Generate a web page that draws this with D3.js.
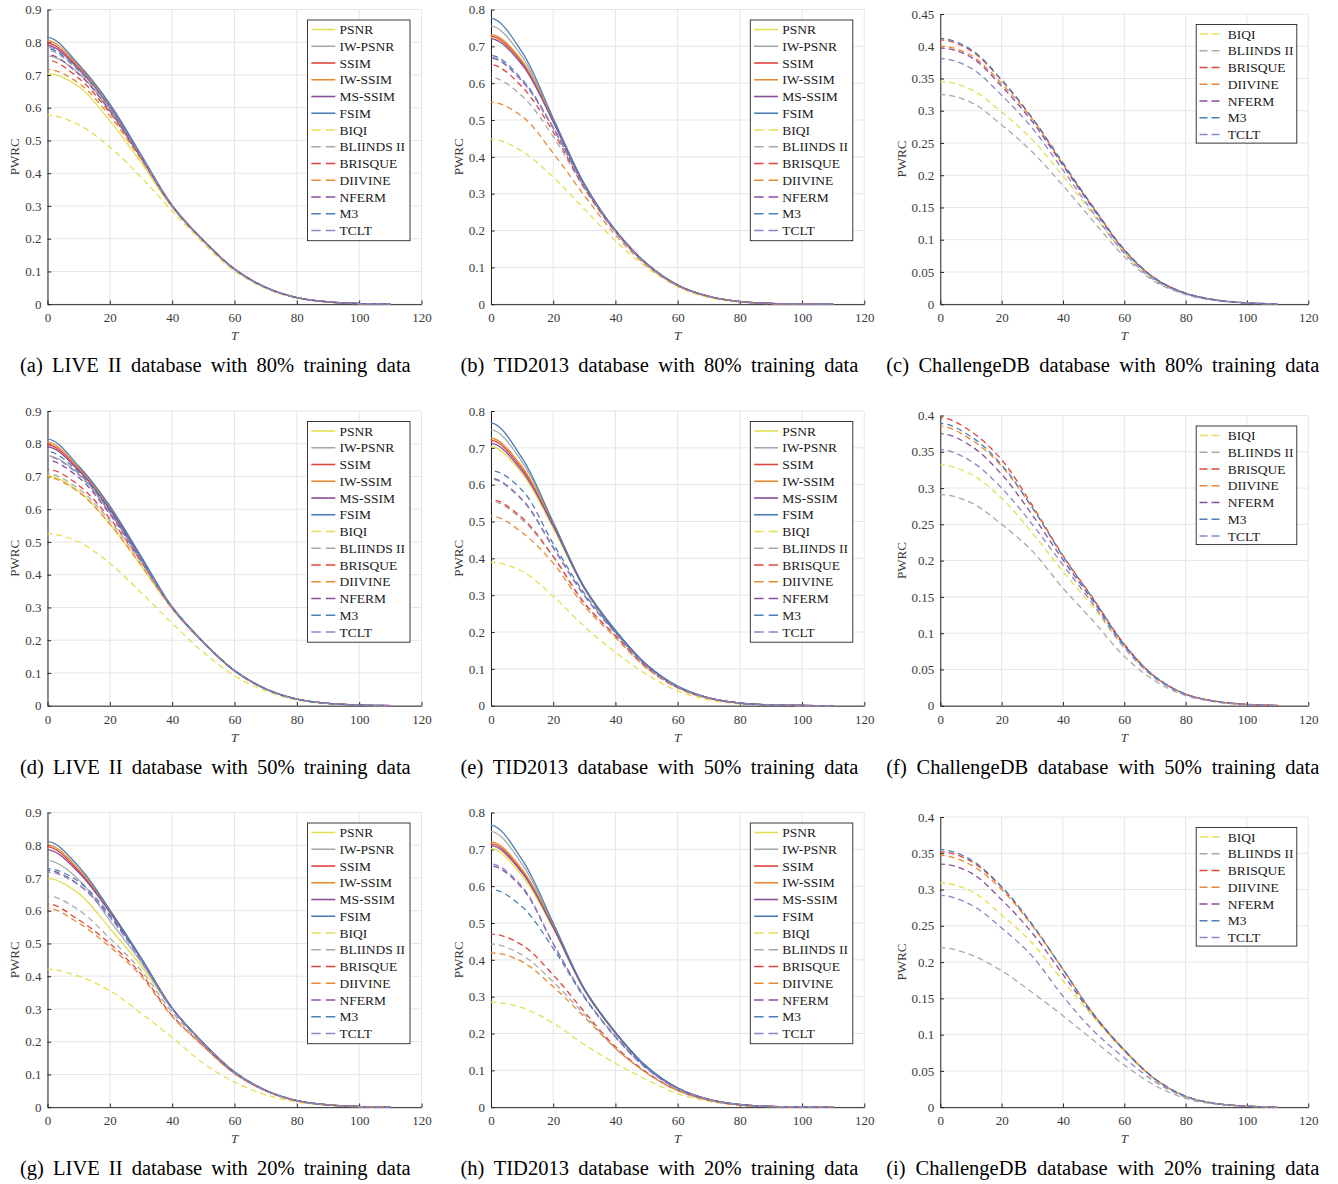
<!DOCTYPE html>
<html>
<head>
<meta charset="utf-8">
<script src="https://cdn.jsdelivr.net/npm/d3@7"></script>
<style>
  body { margin: 0; background: #fff; }
  svg { display: block; font-family: "Liberation Serif", "Times New Roman", serif; }
</style>
</head>
<body>
<div id="chart"></div>
<script>
// Methods, in legend order (first six are FR metrics, drawn solid)
const methods = ["PSNR", "IW-PSNR", "SSIM", "IW-SSIM", "MS-SSIM", "FSIM",
                 "BIQI", "BLIINDS II", "BRISQUE", "DIIVINE", "NFERM", "M3", "TCLT"];
const nrMethods = methods.slice(6);
const methodColors = ["#e4df52", "#a9a9a9", "#e0463d", "#e88a33", "#8a4e9c", "#4b80b6",
                      "#e4df52", "#a9a9a9", "#e0463d", "#e88a33", "#8a4e9c", "#4b80b6", "#8c87c6"];

const thresholds = [0, 10, 20, 30, 40, 50, 60, 70, 80, 90, 100, 110];

// PWRC values, one row per method (order as in `methods` or `nrMethods`)
const liveII80 = [
  [0.704, 0.665, 0.560, 0.433, 0.296, 0.193, 0.106, 0.051, 0.020, 0.007, 0.002, 0.0005],
  [0.758, 0.705, 0.590, 0.447, 0.300, 0.194, 0.107, 0.051, 0.020, 0.007, 0.002, 0.0005],
  [0.797, 0.722, 0.603, 0.452, 0.300, 0.194, 0.107, 0.051, 0.020, 0.007, 0.002, 0.0005],
  [0.805, 0.727, 0.607, 0.454, 0.301, 0.195, 0.107, 0.051, 0.020, 0.007, 0.002, 0.0005],
  [0.790, 0.718, 0.602, 0.452, 0.300, 0.194, 0.107, 0.051, 0.020, 0.007, 0.002, 0.0005],
  [0.815, 0.732, 0.612, 0.457, 0.302, 0.195, 0.108, 0.052, 0.020, 0.007, 0.002, 0.0005],
  [0.577, 0.548, 0.480, 0.388, 0.285, 0.186, 0.101, 0.048, 0.018, 0.006, 0.0015, 0.0004],
  [0.775, 0.712, 0.598, 0.450, 0.300, 0.194, 0.107, 0.051, 0.020, 0.007, 0.002, 0.0005],
  [0.745, 0.690, 0.585, 0.445, 0.299, 0.194, 0.107, 0.051, 0.020, 0.007, 0.002, 0.0005],
  [0.717, 0.675, 0.575, 0.442, 0.298, 0.193, 0.106, 0.051, 0.020, 0.007, 0.002, 0.0005],
  [0.762, 0.703, 0.592, 0.448, 0.300, 0.194, 0.107, 0.051, 0.020, 0.007, 0.002, 0.0005],
  [0.780, 0.715, 0.600, 0.452, 0.300, 0.194, 0.107, 0.051, 0.020, 0.007, 0.002, 0.0005],
  [0.785, 0.716, 0.600, 0.452, 0.300, 0.194, 0.107, 0.051, 0.020, 0.007, 0.002, 0.0005]
];
const tid80 = [
  [0.725, 0.655, 0.497, 0.325, 0.200, 0.110, 0.052, 0.021, 0.007, 0.002, 0.0005, 0.0001],
  [0.755, 0.672, 0.500, 0.325, 0.200, 0.110, 0.052, 0.021, 0.007, 0.002, 0.0005, 0.0001],
  [0.727, 0.656, 0.497, 0.325, 0.200, 0.110, 0.052, 0.021, 0.007, 0.002, 0.0005, 0.0001],
  [0.732, 0.660, 0.500, 0.326, 0.200, 0.110, 0.052, 0.021, 0.007, 0.002, 0.0005, 0.0001],
  [0.720, 0.650, 0.495, 0.325, 0.200, 0.110, 0.052, 0.021, 0.007, 0.002, 0.0005, 0.0001],
  [0.776, 0.684, 0.505, 0.327, 0.201, 0.111, 0.052, 0.021, 0.007, 0.002, 0.0005, 0.0001],
  [0.448, 0.415, 0.345, 0.258, 0.172, 0.100, 0.047, 0.018, 0.006, 0.0015, 0.0004, 0.0001],
  [0.615, 0.565, 0.455, 0.315, 0.198, 0.109, 0.051, 0.021, 0.007, 0.002, 0.0005, 0.0001],
  [0.650, 0.590, 0.468, 0.315, 0.196, 0.108, 0.051, 0.021, 0.007, 0.002, 0.0005, 0.0001],
  [0.548, 0.510, 0.410, 0.295, 0.188, 0.105, 0.050, 0.020, 0.007, 0.002, 0.0005, 0.0001],
  [0.668, 0.605, 0.478, 0.320, 0.198, 0.109, 0.051, 0.021, 0.007, 0.002, 0.0005, 0.0001],
  [0.675, 0.610, 0.480, 0.321, 0.198, 0.109, 0.051, 0.021, 0.007, 0.002, 0.0005, 0.0001],
  [0.670, 0.607, 0.478, 0.320, 0.198, 0.109, 0.051, 0.021, 0.007, 0.002, 0.0005, 0.0001]
];
const challenge80 = [
  [0.345, 0.333, 0.298, 0.255, 0.199, 0.138, 0.080, 0.038, 0.016, 0.006, 0.002, 0.0005],
  [0.325, 0.313, 0.278, 0.236, 0.184, 0.128, 0.074, 0.035, 0.015, 0.0055, 0.0017, 0.0004],
  [0.410, 0.393, 0.347, 0.288, 0.218, 0.149, 0.084, 0.040, 0.017, 0.0065, 0.002, 0.0005],
  [0.400, 0.386, 0.342, 0.287, 0.217, 0.149, 0.084, 0.040, 0.017, 0.0065, 0.002, 0.0005],
  [0.397, 0.383, 0.338, 0.283, 0.215, 0.147, 0.083, 0.040, 0.017, 0.0065, 0.002, 0.0005],
  [0.412, 0.395, 0.348, 0.289, 0.219, 0.150, 0.085, 0.040, 0.017, 0.0065, 0.002, 0.0005],
  [0.381, 0.366, 0.324, 0.273, 0.208, 0.141, 0.079, 0.037, 0.016, 0.006, 0.002, 0.0005]
];
const liveII50 = [
  [0.702, 0.655, 0.555, 0.428, 0.296, 0.193, 0.106, 0.051, 0.020, 0.007, 0.002, 0.0005],
  [0.763, 0.708, 0.590, 0.447, 0.300, 0.194, 0.107, 0.051, 0.020, 0.007, 0.002, 0.0005],
  [0.797, 0.722, 0.600, 0.452, 0.300, 0.194, 0.107, 0.051, 0.020, 0.007, 0.002, 0.0005],
  [0.804, 0.727, 0.605, 0.454, 0.301, 0.195, 0.107, 0.051, 0.020, 0.007, 0.002, 0.0005],
  [0.790, 0.718, 0.600, 0.452, 0.300, 0.194, 0.107, 0.051, 0.020, 0.007, 0.002, 0.0005],
  [0.814, 0.732, 0.610, 0.457, 0.302, 0.195, 0.108, 0.052, 0.020, 0.007, 0.002, 0.0005],
  [0.525, 0.500, 0.435, 0.346, 0.252, 0.163, 0.092, 0.045, 0.017, 0.006, 0.0015, 0.0004],
  [0.708, 0.662, 0.565, 0.438, 0.298, 0.193, 0.106, 0.051, 0.020, 0.007, 0.002, 0.0005],
  [0.722, 0.673, 0.572, 0.441, 0.298, 0.193, 0.106, 0.051, 0.020, 0.007, 0.002, 0.0005],
  [0.697, 0.652, 0.555, 0.430, 0.296, 0.193, 0.106, 0.051, 0.020, 0.007, 0.002, 0.0005],
  [0.749, 0.697, 0.585, 0.445, 0.300, 0.194, 0.107, 0.051, 0.020, 0.007, 0.002, 0.0005],
  [0.776, 0.713, 0.595, 0.450, 0.300, 0.194, 0.107, 0.051, 0.020, 0.007, 0.002, 0.0005],
  [0.760, 0.705, 0.590, 0.447, 0.300, 0.194, 0.107, 0.051, 0.020, 0.007, 0.002, 0.0005]
];
const tid50 = [
  [0.703, 0.630, 0.482, 0.318, 0.200, 0.110, 0.052, 0.021, 0.007, 0.002, 0.0005, 0.0001],
  [0.749, 0.662, 0.495, 0.320, 0.203, 0.111, 0.052, 0.021, 0.007, 0.002, 0.0005, 0.0001],
  [0.720, 0.643, 0.490, 0.320, 0.203, 0.111, 0.052, 0.021, 0.007, 0.002, 0.0005, 0.0001],
  [0.726, 0.648, 0.493, 0.321, 0.204, 0.111, 0.052, 0.021, 0.007, 0.002, 0.0005, 0.0001],
  [0.712, 0.637, 0.488, 0.319, 0.203, 0.111, 0.052, 0.021, 0.007, 0.002, 0.0005, 0.0001],
  [0.767, 0.672, 0.498, 0.322, 0.205, 0.112, 0.053, 0.021, 0.007, 0.002, 0.0005, 0.0001],
  [0.389, 0.365, 0.297, 0.215, 0.145, 0.085, 0.040, 0.016, 0.005, 0.0015, 0.0004, 0.0001],
  [0.555, 0.505, 0.405, 0.280, 0.190, 0.104, 0.049, 0.020, 0.007, 0.002, 0.0005, 0.0001],
  [0.559, 0.510, 0.405, 0.278, 0.190, 0.104, 0.049, 0.020, 0.007, 0.002, 0.0005, 0.0001],
  [0.515, 0.470, 0.387, 0.270, 0.185, 0.102, 0.048, 0.019, 0.0065, 0.002, 0.0005, 0.0001],
  [0.617, 0.560, 0.430, 0.300, 0.198, 0.108, 0.051, 0.021, 0.007, 0.002, 0.0005, 0.0001],
  [0.638, 0.585, 0.440, 0.305, 0.200, 0.109, 0.051, 0.021, 0.007, 0.002, 0.0005, 0.0001],
  [0.615, 0.558, 0.428, 0.298, 0.197, 0.108, 0.051, 0.021, 0.007, 0.002, 0.0005, 0.0001]
];
const challenge50 = [
  [0.332, 0.319, 0.286, 0.238, 0.185, 0.135, 0.080, 0.038, 0.015, 0.0055, 0.0017, 0.0004],
  [0.291, 0.280, 0.250, 0.213, 0.162, 0.116, 0.068, 0.034, 0.014, 0.005, 0.0015, 0.0004],
  [0.397, 0.378, 0.339, 0.276, 0.207, 0.147, 0.085, 0.040, 0.016, 0.006, 0.0018, 0.0004],
  [0.385, 0.367, 0.330, 0.273, 0.206, 0.146, 0.084, 0.040, 0.016, 0.006, 0.0018, 0.0004],
  [0.375, 0.358, 0.319, 0.263, 0.201, 0.143, 0.083, 0.040, 0.016, 0.006, 0.0018, 0.0004],
  [0.389, 0.371, 0.332, 0.273, 0.206, 0.146, 0.084, 0.040, 0.016, 0.006, 0.0018, 0.0004],
  [0.353, 0.337, 0.300, 0.250, 0.194, 0.139, 0.080, 0.038, 0.015, 0.0055, 0.0017, 0.0004]
];
const liveII20 = [
  [0.699, 0.653, 0.546, 0.432, 0.300, 0.194, 0.106, 0.051, 0.020, 0.007, 0.002, 0.0005],
  [0.753, 0.695, 0.570, 0.443, 0.300, 0.195, 0.106, 0.051, 0.020, 0.007, 0.002, 0.0005],
  [0.795, 0.722, 0.598, 0.455, 0.302, 0.196, 0.107, 0.051, 0.020, 0.007, 0.002, 0.0005],
  [0.801, 0.727, 0.600, 0.456, 0.302, 0.196, 0.107, 0.051, 0.020, 0.007, 0.002, 0.0005],
  [0.786, 0.717, 0.595, 0.454, 0.302, 0.196, 0.107, 0.051, 0.020, 0.007, 0.002, 0.0005],
  [0.811, 0.735, 0.603, 0.457, 0.303, 0.196, 0.108, 0.052, 0.020, 0.007, 0.002, 0.0005],
  [0.421, 0.400, 0.356, 0.287, 0.213, 0.134, 0.077, 0.038, 0.016, 0.006, 0.0015, 0.0004],
  [0.645, 0.602, 0.516, 0.418, 0.290, 0.190, 0.104, 0.050, 0.019, 0.007, 0.002, 0.0005],
  [0.621, 0.572, 0.500, 0.407, 0.280, 0.187, 0.103, 0.050, 0.019, 0.007, 0.002, 0.0005],
  [0.608, 0.562, 0.490, 0.401, 0.277, 0.186, 0.103, 0.050, 0.019, 0.007, 0.002, 0.0005],
  [0.723, 0.680, 0.582, 0.450, 0.301, 0.195, 0.106, 0.051, 0.020, 0.007, 0.002, 0.0005],
  [0.728, 0.689, 0.587, 0.452, 0.301, 0.195, 0.106, 0.051, 0.020, 0.007, 0.002, 0.0005],
  [0.718, 0.678, 0.580, 0.449, 0.301, 0.195, 0.106, 0.051, 0.020, 0.007, 0.002, 0.0005]
];
const tid20 = [
  [0.702, 0.628, 0.485, 0.318, 0.200, 0.109, 0.051, 0.021, 0.007, 0.002, 0.0005, 0.0001],
  [0.748, 0.660, 0.495, 0.320, 0.202, 0.110, 0.052, 0.021, 0.007, 0.002, 0.0005, 0.0001],
  [0.715, 0.640, 0.490, 0.320, 0.202, 0.110, 0.052, 0.021, 0.007, 0.002, 0.0005, 0.0001],
  [0.720, 0.645, 0.493, 0.321, 0.203, 0.110, 0.052, 0.021, 0.007, 0.002, 0.0005, 0.0001],
  [0.710, 0.636, 0.488, 0.319, 0.202, 0.110, 0.052, 0.021, 0.007, 0.002, 0.0005, 0.0001],
  [0.765, 0.672, 0.500, 0.322, 0.204, 0.111, 0.052, 0.021, 0.007, 0.002, 0.0005, 0.0001],
  [0.285, 0.270, 0.228, 0.170, 0.119, 0.075, 0.037, 0.016, 0.005, 0.0015, 0.0004, 0.0001],
  [0.443, 0.413, 0.340, 0.252, 0.160, 0.093, 0.045, 0.019, 0.006, 0.002, 0.0005, 0.0001],
  [0.470, 0.440, 0.359, 0.259, 0.164, 0.095, 0.046, 0.019, 0.006, 0.002, 0.0005, 0.0001],
  [0.419, 0.395, 0.327, 0.245, 0.160, 0.093, 0.045, 0.019, 0.006, 0.002, 0.0005, 0.0001],
  [0.655, 0.595, 0.443, 0.300, 0.192, 0.106, 0.050, 0.021, 0.007, 0.002, 0.0005, 0.0001],
  [0.591, 0.544, 0.431, 0.298, 0.190, 0.105, 0.050, 0.021, 0.007, 0.002, 0.0005, 0.0001],
  [0.660, 0.599, 0.445, 0.301, 0.192, 0.106, 0.050, 0.021, 0.007, 0.002, 0.0005, 0.0001]
];
const challenge20 = [
  [0.309, 0.298, 0.265, 0.226, 0.174, 0.124, 0.077, 0.038, 0.015, 0.005, 0.0015, 0.0004],
  [0.220, 0.210, 0.188, 0.158, 0.126, 0.092, 0.058, 0.030, 0.012, 0.004, 0.0012, 0.0003],
  [0.352, 0.339, 0.303, 0.251, 0.190, 0.128, 0.079, 0.039, 0.015, 0.005, 0.0015, 0.0004],
  [0.347, 0.334, 0.300, 0.250, 0.190, 0.128, 0.079, 0.039, 0.015, 0.005, 0.0015, 0.0004],
  [0.335, 0.323, 0.286, 0.240, 0.183, 0.126, 0.078, 0.039, 0.015, 0.005, 0.0015, 0.0004],
  [0.355, 0.341, 0.304, 0.252, 0.190, 0.128, 0.079, 0.039, 0.015, 0.005, 0.0015, 0.0004],
  [0.292, 0.279, 0.247, 0.208, 0.153, 0.105, 0.068, 0.035, 0.014, 0.005, 0.0015, 0.0004]
];

const captions = [
  "(a) LIVE II database with 80% training data",
  "(b) TID2013 database with 80% training data",
  "(c) ChallengeDB database with 80% training data",
  "(d) LIVE II database with 50% training data",
  "(e) TID2013 database with 50% training data",
  "(f) ChallengeDB database with 50% training data",
  "(g) LIVE II database with 20% training data",
  "(h) TID2013 database with 20% training data",
  "(i) ChallengeDB database with 20% training data"
];

const panelData = [liveII80, tid80, challenge80, liveII50, tid50, challenge50, liveII20, tid20, challenge20];

// Layout of the 3x3 grid
const colX = [[47.5, 421.5], [491, 864.3], [940.3, 1308.3]];
const rowTop = [0, 401.5, 803];
const captionX = [[20, 410.7], [460.5, 858.3], [886.3, 1319.3]];
const axisColor = "#262626";
const tickFont = 13;

const svg = d3.select("#chart")
    .append("svg")
    .attr("width", 1338)
    .attr("height", 1184);

const defs = svg.append("defs");

function fmtTick(d) {
    return d === 0 ? "0" : String(+d.toFixed(2));
}

function drawPanel(idx) {
    const col = idx % 3, row = Math.floor(idx / 3);
    const isNR = col === 2;
    const names = isNR ? nrMethods : methods;
    const colors = isNR ? methodColors.slice(6) : methodColors;
    const yMax = col === 0 ? 0.9 : (col === 1 ? 0.8 : (row === 0 ? 0.45 : 0.4));
    const yStep = col === 2 ? 0.05 : 0.1;

    const x0 = colX[col][0], x1 = colX[col][1];
    const yBottom = rowTop[row] + 304.2;
    const yTop = rowTop[row] + (isNR ? 14 : 9.5);

    const x = d3.scaleLinear().domain([0, 120]).range([x0, x1]);
    const y = d3.scaleLinear().domain([0, yMax]).range([yBottom, yTop]);

    const xTicks = d3.range(0, 121, 20);
    const yTicks = d3.range(0, Math.round(yMax / yStep) + 1).map(i => i * yStep);

    const g = svg.append("g");

    // Grid lines
    g.append("g").selectAll("line").data(xTicks).join("line")
        .attr("x1", d => x(d)).attr("x2", d => x(d))
        .attr("y1", yTop).attr("y2", yBottom)
        .attr("stroke", "#e6e6e6").attr("stroke-width", 1);
    g.append("g").selectAll("line").data(yTicks).join("line")
        .attr("x1", x0).attr("x2", x1)
        .attr("y1", d => y(d)).attr("y2", d => y(d))
        .attr("stroke", "#e6e6e6").attr("stroke-width", 1);

    // Axes (ticks pointing inward, MATLAB style)
    const xAxis = g.append("g")
        .attr("transform", `translate(0,${yBottom})`)
        .call(d3.axisBottom(x).tickValues(xTicks).tickFormat(fmtTick)
            .tickSizeInner(-3.7).tickSizeOuter(0).tickPadding(9));
    const yAxis = g.append("g")
        .attr("transform", `translate(${x0},0)`)
        .call(d3.axisLeft(y).tickValues(yTicks).tickFormat(fmtTick)
            .tickSizeInner(-3.7).tickSizeOuter(0).tickPadding(6));

    [xAxis, yAxis].forEach(a => {
        a.attr("font-family", null).attr("font-size", tickFont);
        a.select(".domain").attr("stroke", axisColor);
        a.selectAll(".tick line").attr("stroke", axisColor);
        a.selectAll(".tick text").attr("fill", "#3a3a3a");
    });

    // Axis labels
    g.append("text")
        .attr("x", (x0 + x1) / 2)
        .attr("y", yBottom + 36)
        .attr("text-anchor", "middle")
        .attr("font-style", "italic")
        .attr("font-size", 13)
        .attr("fill", "#3a3a3a")
        .text("T");

    // bbox is in the axis group's own coordinates, so add its offset
    const labelLeft = x0 + yAxis.node().getBBox().x;
    const cx = labelLeft - 10.3;
    const cy = (yTop + yBottom) / 2;
    g.append("text")
        .attr("transform", `translate(${cx + 4.4},${cy}) rotate(-90)`)
        .attr("text-anchor", "middle")
        .attr("font-size", 13)
        .attr("fill", "#3a3a3a")
        .text("PWRC");

    // Curves: the curves are symmetric about T = 0, so a mirrored control
    // point at T = -10 gives the spline a flat start; the clip hides it.
    const clipId = `clip-${idx}`;
    defs.append("clipPath").attr("id", clipId)
        .append("rect")
        .attr("x", x(0)).attr("y", yTop - 10)
        .attr("width", x1 - x0 + 5).attr("height", yBottom - yTop + 14);

    const line = d3.line()
        .x(d => x(d[0]))
        .y(d => y(d[1]))
        .curve(d3.curveCatmullRom.alpha(0.5));

    const curves = g.append("g").attr("clip-path", `url(#${clipId})`);
    const data = panelData[idx];
    data.forEach((vals, i) => {
        const dashed = isNR || i >= 6;
        const pts = [[-thresholds[1], vals[1]]].concat(vals.map((v, k) => [thresholds[k], v]));
        curves.append("path")
            .datum(pts)
            .attr("d", line)
            .attr("fill", "none")
            .attr("stroke", colors[i])
            .attr("stroke-width", 1.3)
            .attr("stroke-dasharray", dashed ? "6,4" : null)
            .attr("stroke-dashoffset", dashed ? -(x(thresholds[1]) - x(0)) : null);
    });

    // Legend
    const rowH = 16.75;
    const legW = isNR ? 100.6 : 102.5;
    const legH = isNR ? 118.6 : 220.7;
    const lx = x1 - 11.5 - legW;
    const ly = yTop + 10.5;
    const leg = g.append("g").attr("transform", `translate(${lx},${ly})`);
    leg.append("rect")
        .attr("width", legW).attr("height", legH)
        .attr("fill", "#fff").attr("stroke", axisColor).attr("stroke-width", 0.9);

    const sx0 = isNR ? 3.3 : 3.8;
    const sx1 = isNR ? 23.3 : 27.8;
    const tx = isNR ? 31.6 : 32;
    names.forEach((name, i) => {
        const dashed = isNR || i >= 6;
        const cyRow = 9.5 + i * rowH;
        leg.append("line")
            .attr("x1", sx0).attr("x2", sx1)
            .attr("y1", cyRow).attr("y2", cyRow)
            .attr("stroke", colors[i])
            .attr("stroke-width", 1.6)
            .attr("stroke-dasharray", dashed ? (isNR ? "8,4" : "9.5,5") : null);
        leg.append("text")
            .attr("x", tx)
            .attr("y", cyRow)
            .attr("dy", "0.35em")
            .attr("font-size", 13.5)
            .attr("fill", "#1a1a1a")
            .text(name);
    });

    // Justified caption below the panel
    const capBase = rowTop[row] + 372.3;
    const words = captions[idx].split(" ");
    const cap = svg.append("text")
        .attr("y", capBase)
        .attr("font-size", 20.5)
        .attr("fill", "#000");
    const spans = words.map(w => cap.append("tspan").text(w));
    const widths = spans.map(s => s.node().getComputedTextLength());
    const gap = (captionX[col][1] - captionX[col][0] - d3.sum(widths)) / (words.length - 1);
    let pos = captionX[col][0];
    spans.forEach((s, i) => {
        s.attr("x", pos);
        pos += widths[i] + gap;
    });
}

panelData.forEach((d, i) => drawPanel(i));
</script>
</body>
</html>
